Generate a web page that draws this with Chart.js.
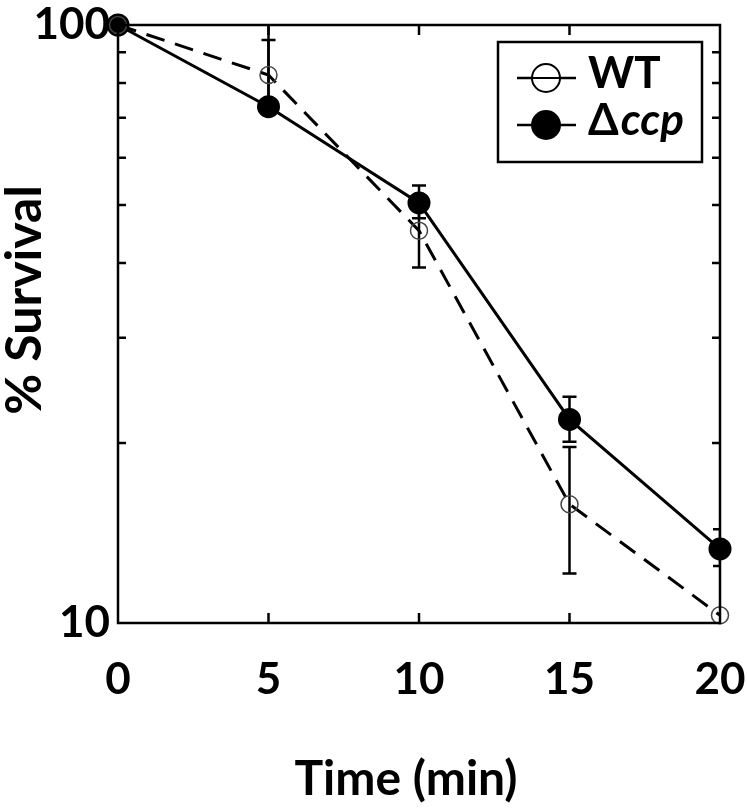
<!DOCTYPE html>
<html>
<head>
<meta charset="utf-8">
<script src="https://cdn.jsdelivr.net/npm/chart.js@4.4.1/dist/chart.umd.min.js"></script>
<style>
  html, body { margin: 0; padding: 0; background: #fff; }
  #wrap { width: 747px; height: 808px; }
</style>
</head>
<body>
<div id="wrap"><canvas id="chartSurvival"></canvas></div>
<script>
// data
const waktu = [0, 5, 10, 15, 20];
const survivalWT = [100, 82.5, 45.3, 15.8, 10.3];
const survivalCcp = [100, 73, 50.4, 21.9, 13.3];
// error bars (low / high), null = none drawn
const errWTLow = [null, 74, 39.3, 12.1, null];
const errWTHigh = [null, 106, 51, 19.7, null];
const errCcpLow = [null, 71.6, 47.5, 20.1, 12.45];
const errCcpHigh = [null, 94.4, 53.9, 23.9, 14.35];
const tickY = [10, 100];
const minorY = [20, 30, 40, 50, 60, 70, 80, 90];
const minorX = [5, 10, 15];

const fontUtama = "Lato";

const plotFrame = {
    id: "plotFrame",
    beforeDatasetsDraw(chart) {
        const ctx = chart.ctx;
        const a = chart.chartArea;
        const sx = chart.scales.x;
        const sy = chart.scales.y;
        ctx.save();
        ctx.beginPath();
        ctx.rect(a.left, a.top, a.right - a.left, a.bottom - a.top);
        ctx.clip();
        ctx.strokeStyle = "#000";
        ctx.lineWidth = 2.5;
        const gambarErr = (lo, hi) => {
            waktu.forEach((t, i) => {
                if (lo[i] == null) return;
                const x = sx.getPixelForValue(t);
                const y1 = sy.getPixelForValue(lo[i]);
                const y2 = sy.getPixelForValue(hi[i]);
                ctx.beginPath();
                ctx.moveTo(x, y1); ctx.lineTo(x, y2);
                ctx.moveTo(x - 7, y1); ctx.lineTo(x + 7, y1);
                ctx.moveTo(x - 7, y2); ctx.lineTo(x + 7, y2);
                ctx.stroke();
            });
        };
        gambarErr(errWTLow, errWTHigh);
        gambarErr(errCcpLow, errCcpHigh);
        ctx.restore();
    },
    afterDraw(chart) {
        const ctx = chart.ctx;
        const a = chart.chartArea;
        const sx = chart.scales.x;
        const sy = chart.scales.y;
        ctx.save();
        ctx.strokeStyle = "#000";
        ctx.lineWidth = 2.5;
        ctx.strokeRect(a.left, a.top, a.right - a.left, a.bottom - a.top);
        ctx.beginPath();
        minorY.forEach(v => {
            const y = sy.getPixelForValue(v);
            ctx.moveTo(a.left, y); ctx.lineTo(a.left + 8, y);
            ctx.moveTo(a.right, y); ctx.lineTo(a.right - 8, y);
        });
        minorX.forEach(v => {
            const x = sx.getPixelForValue(v);
            ctx.moveTo(x, a.bottom); ctx.lineTo(x, a.bottom - 10);
            ctx.moveTo(x, a.top); ctx.lineTo(x, a.top + 10);
        });
        ctx.stroke();

        // legend box
        const bx = 498, by = 42, bw = 204, bh = 120;
        ctx.fillStyle = "#fff";
        ctx.fillRect(bx, by, bw, bh);
        ctx.strokeRect(bx, by, bw, bh);
        const baris = [
            { y: 78, isi: false },
            { y: 125, isi: true }
        ];
        baris.forEach(b => {
            ctx.beginPath();
            ctx.moveTo(517, b.y); ctx.lineTo(576, b.y);
            ctx.lineWidth = 2.5;
            ctx.stroke();
            ctx.beginPath();
            ctx.arc(546, b.y, b.isi ? 15 : 14, 0, Math.PI * 2);
            if (b.isi) {
                ctx.fillStyle = "#000";
                ctx.fill();
            } else {
                ctx.fillStyle = "#fff";
                ctx.fill();
                ctx.lineWidth = 2;
                ctx.stroke();
                ctx.beginPath();
                ctx.moveTo(531, b.y); ctx.lineTo(561, b.y);
                ctx.stroke();
            }
        });
        ctx.fillStyle = "#000";
        ctx.textBaseline = "middle";
        ctx.textAlign = "left";
        ctx.font = "bold 44px " + fontUtama;
        ctx.fillText("WT", 588, 74);
        ctx.fillText("Δ", 588, 121);
        const wDelta = ctx.measureText("Δ").width;
        ctx.font = "italic bold 44px " + fontUtama;
        ctx.fillText("ccp", 588 + wDelta + 2, 121);

        // y axis title
        ctx.save();
        ctx.translate(25, 300);
        ctx.rotate(-Math.PI / 2);
        ctx.textAlign = "center";
        ctx.font = "bold 50px " + fontUtama;
        ctx.fillText("% Survival", 0, 0);
        ctx.restore();

        // x axis title
        ctx.textAlign = "center";
        ctx.font = "bold 48px " + fontUtama;
        ctx.fillText("Time (min)", 406, 780);
        ctx.restore();
    }
};

new Chart(document.getElementById("chartSurvival"), {
    type: "line",
    data: {
        labels: waktu,
        datasets: [
            {
                label: "WT",
                data: waktu.map((t, i) => ({ x: t, y: survivalWT[i] })),
                borderColor: "#000",
                borderWidth: 3,
                borderDash: [19, 11],
                pointRadius: 8.5,
                pointBorderWidth: 1.5,
                pointBorderColor: "#444",
                pointBackgroundColor: "rgba(255,255,255,0)",
                tension: 0,
                clip: false
            },
            {
                label: "Δccp",
                data: waktu.map((t, i) => ({ x: t, y: survivalCcp[i] })),
                borderColor: "#000",
                borderWidth: 3,
                pointRadius: 10,
                pointBackgroundColor: "#000",
                pointBorderColor: "#000",
                tension: 0,
                clip: false
            }
        ]
    },
    options: {
        responsive: true,
        maintainAspectRatio: false,
        animation: false,
        layout: { padding: { top: 25, right: 27, left: 0, bottom: 0 } },
        plugins: { legend: { display: false }, tooltip: { enabled: false } },
        scales: {
            x: {
                type: "linear",
                min: 0,
                max: 20,
                grid: { display: false, drawTicks: false },
                border: { display: false },
                ticks: {
                    stepSize: 5,
                    padding: 30,
                    color: "#000",
                    maxRotation: 0,
                    font: { family: fontUtama, size: 44, weight: "bold" }
                },
                afterFit: s => {
                    s.height = 185;
                    s.paddingLeft = 0;
                    s.paddingRight = 0;
                }
            },
            y: {
                type: "logarithmic",
                min: 10,
                max: 100,
                grid: { display: false, drawTicks: false },
                border: { display: false },
                afterBuildTicks: s => { s.ticks = tickY.map(v => ({ value: v })); },
                ticks: {
                    padding: 8,
                    color: "#000",
                    font: { family: fontUtama, size: 44, weight: "bold" },
                    callback: v => String(v)
                },
                afterFit: s => {
                    s.width = 118;
                    s.paddingTop = 0;
                    s.paddingBottom = 0;
                }
            }
        }
    },
    plugins: [plotFrame]
});
</script>
</body>
</html>
